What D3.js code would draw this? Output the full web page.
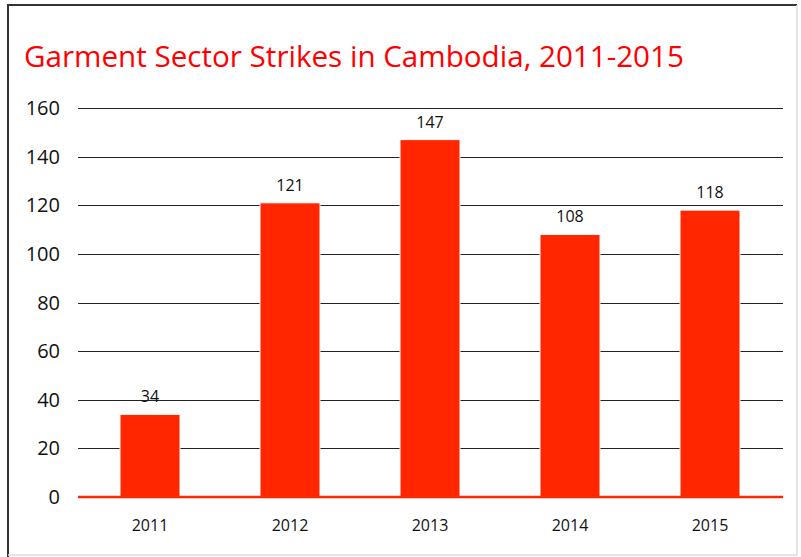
<!DOCTYPE html>
<html>
<head>
<meta charset="utf-8">
<script src="https://cdn.jsdelivr.net/npm/d3@7"></script>
<style>
  body { margin: 0; background: #fff; }
  text { font-family: "Open Sans", sans-serif; }
</style>
</head>
<body>
<script>
'use strict';

const years = ['2011', '2012', '2013', '2014', '2015'];
const strikes = [34, 121, 147, 108, 118];
const yTicks = [0, 20, 40, 60, 80, 100, 120, 140, 160];
const titleText = 'Garment Sector Strikes in Cambodia, 2011-2015';

(function() {
  const width = 801, height = 557;
  const red = '#ff2600';

  const svg = d3.select('body')
    .append('svg')
    .attr('width', width)
    .attr('height', height);

  // frame
  svg.append('rect')
    .attr('x', 0).attr('y', 0)
    .attr('width', width).attr('height', height)
    .attr('fill', '#fff');
  svg.append('path')
    .attr('d', 'M8,' + (height) + 'V5H797')
    .attr('fill', 'none')
    .attr('stroke', '#333')
    .attr('stroke-width', 2);
  svg.append('path')
    .attr('d', 'M797,5V555H8')
    .attr('fill', 'none')
    .attr('stroke', '#ddd')
    .attr('stroke-width', 1.5);

  svg.append('text')
    .attr('x', 24)
    .attr('y', 67)
    .attr('fill', '#ff0000')
    .style('font-size', '29.6px')
    .text(titleText);

  let xScale = d3.scaleBand()
    .domain(years)
    .range([80, 780])
    .paddingInner(80 / 140)
    .paddingOuter(40 / 140);

  let yScale = d3.scaleLinear()
    .domain([0, 160])
    .range([497, 108]);

  // gridlines
  svg.append('g')
    .selectAll('line')
    .data(yTicks.filter((d) => d > 0))
    .enter()
    .append('line')
      .attr('x1', 78)
      .attr('x2', 783)
      .attr('y1', (d) => Math.round(yScale(d)) + 0.5)
      .attr('y2', (d) => Math.round(yScale(d)) + 0.5)
      .attr('stroke', '#222')
      .attr('stroke-width', 1);

  // y labels
  svg.append('g')
    .selectAll('text')
    .data(yTicks)
    .enter()
    .append('text')
      .attr('x', 60)
      .attr('y', (d) => yScale(d) + 7)
      .attr('text-anchor', 'end')
      .attr('fill', '#111')
      .style('font-size', '20px')
      .text((d) => d);

  // bars
  svg.append('g')
    .selectAll('rect')
    .data(strikes)
    .enter()
    .append('rect')
      .attr('x', (d, i) => xScale(years[i]))
      .attr('y', (d) => yScale(d))
      .attr('width', xScale.bandwidth())
      .attr('height', (d) => yScale(0) - yScale(d))
      .attr('fill', red)
      .attr('stroke', '#fff')
      .attr('stroke-width', 1);

  // baseline
  svg.append('line')
    .attr('x1', 78)
    .attr('x2', 783)
    .attr('y1', yScale(0))
    .attr('y2', yScale(0))
    .attr('stroke', red)
    .attr('stroke-width', 2.5);

  // value labels
  svg.append('g')
    .selectAll('text')
    .data(strikes)
    .enter()
    .append('text')
      .attr('x', (d, i) => xScale(years[i]) + xScale.bandwidth() / 2)
      .attr('y', (d) => yScale(d) - 12)
      .attr('text-anchor', 'middle')
      .attr('fill', '#111')
      .style('font-size', '16px')
      .text((d) => d);

  // x labels
  svg.append('g')
    .selectAll('text')
    .data(years)
    .enter()
    .append('text')
      .attr('x', (d) => xScale(d) + xScale.bandwidth() / 2)
      .attr('y', 531)
      .attr('text-anchor', 'middle')
      .attr('fill', '#111')
      .style('font-size', '16px')
      .text((d) => d);
})();
</script>
</body>
</html>
